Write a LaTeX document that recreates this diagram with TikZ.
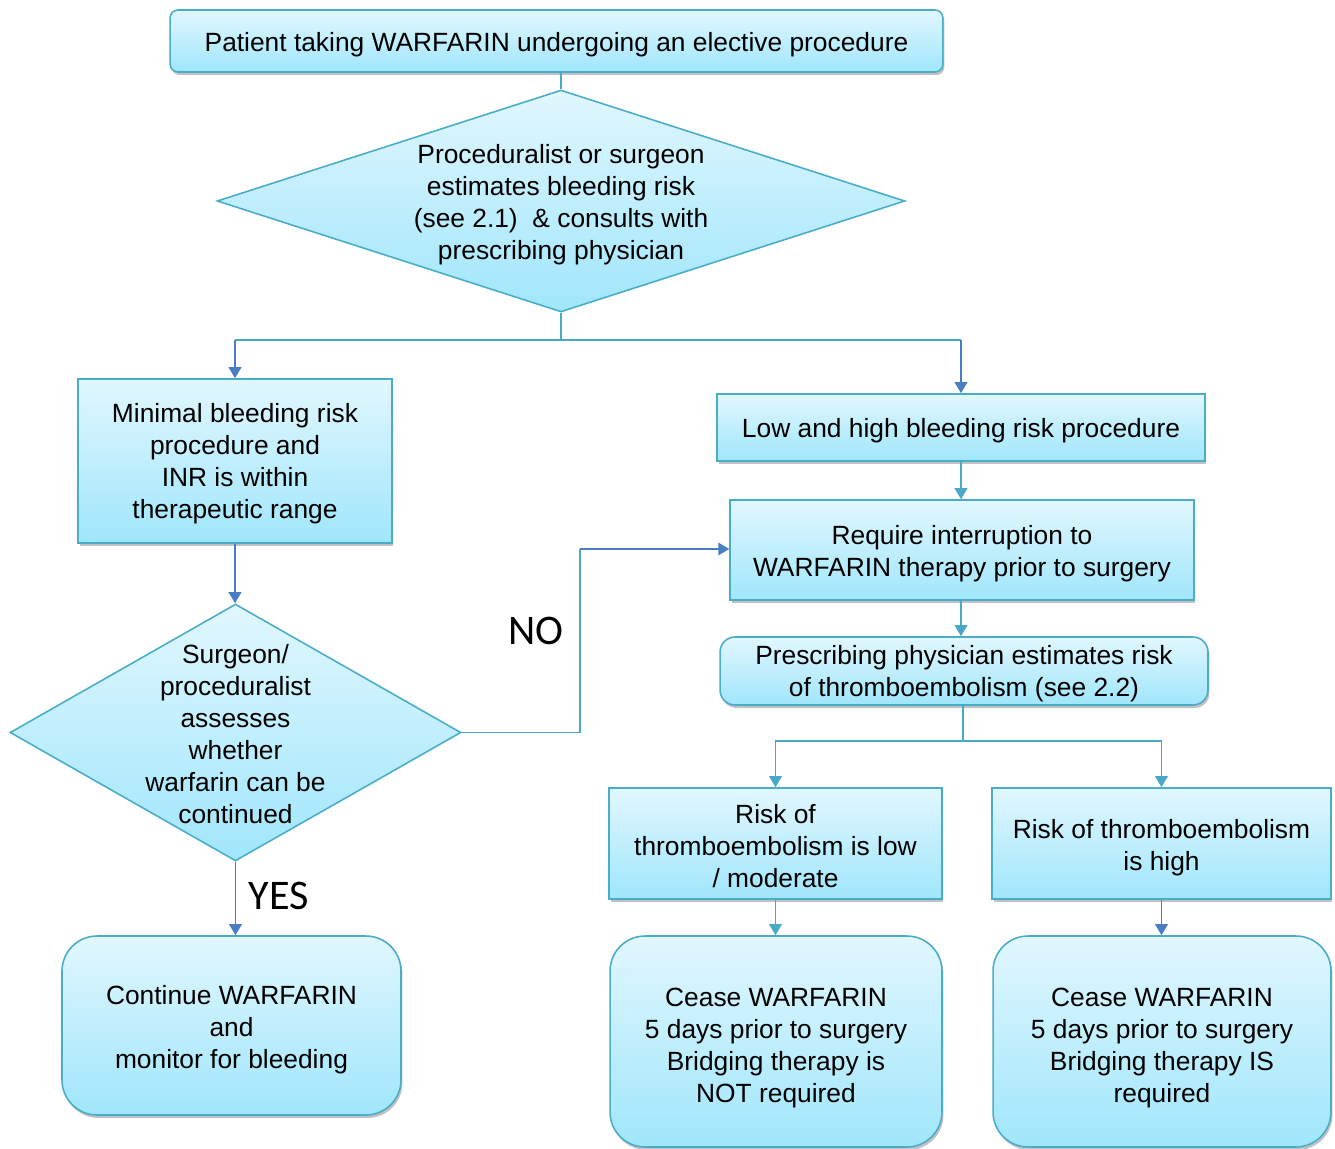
\documentclass[tikz,border=0pt]{standalone}
\usepackage{fontspec}
\setmainfont{Liberation Sans}
\newfontfamily\labelfont{Carlito}
\usetikzlibrary{shapes.geometric,arrows.meta,shadows}
\definecolor{boxtop}{HTML}{E1F7FE}
\definecolor{boxbot}{HTML}{A0E6FB}
\definecolor{boxline}{HTML}{4AADC8}
\definecolor{arrblue}{HTML}{4A7EC2}
\definecolor{arrteal}{HTML}{47A9C7}
\newcommand\tpad[1]{\rule{0pt}{#1}}
\tikzset{
  base/.style={draw=boxline, line width=0.9pt, top color=boxtop, bottom color=boxbot,
    inner sep=0pt, align=center, font=\fontsize{15}{18.2}\selectfont},
  shad/.style={drop shadow={shadow xshift=0.03cm, shadow yshift=-0.06cm, opacity=0.35, fill=black!70}},
  rectbox/.style={base, shad, rectangle},
  roundbox/.style={base, shad, rectangle, rounded corners=#1},
  diabox/.style={base, diamond},
  txt/.style={align=center, inner sep=0pt, font=\fontsize{15}{18.2}\selectfont},
  ynlabel/.style={font=\labelfont\fontsize{24}{28}\selectfont, inner sep=0pt},
  bluearr/.style={draw=arrblue, line width=1.1pt, -{Triangle[width=0.25cm,length=0.22cm]}},
  tealarr/.style={draw=arrteal, line width=1.1pt, -{Triangle[width=0.25cm,length=0.22cm]}},
  tealline/.style={draw=arrteal, line width=1.1pt},
  blueline/.style={draw=arrblue, line width=1.1pt},
}
\begin{document}
\begin{tikzpicture}[x=0.02cm, y=-0.02cm]
\useasboundingbox (0,0) rectangle (1335,1149);

% top box
\node[roundbox=0.16cm, minimum width=15.46cm, minimum height=1.24cm] (top) at (556.5,41)
  {\tpad{14.5pt}Patient taking WARFARIN undergoing an elective procedure};

% first diamond
\node[diabox, minimum width=13.76cm, minimum height=4.44cm] (d1) at (561,201) {};
\node[txt] (d1t) at (561,205) {Proceduralist or surgeon\\estimates bleeding risk\\(see 2.1)\ \ \& consults with\\prescribing physician};

% left branch
\node[rectbox, minimum width=6.28cm, minimum height=3.28cm] (lb) at (235,461)
  {\tpad{14.4pt}Minimal bleeding risk\\procedure and\\INR is within\\therapeutic range};
\node[diabox, minimum width=9.02cm, minimum height=5.14cm] (d2) at (235.5,732.5) {};
\node[txt] (d2t) at (235.5,734) {Surgeon/\\proceduralist\\assesses\\whether\\warfarin can be\\continued};
\node[roundbox=0.7cm, minimum width=6.78cm, minimum height=3.58cm] (cont) at (231.5,1025.5)
  {\tpad{15.6pt}Continue WARFARIN\\and\\monitor for bleeding};

% right branch
\node[rectbox, minimum width=9.76cm, minimum height=1.34cm] (rb1) at (961,427.5)
  {\tpad{15pt}Low and high bleeding risk procedure};
\node[rectbox, minimum width=9.28cm, minimum height=2.0cm] (rb2) at (962,550)
  {\tpad{15.6pt}Require interruption to\\WARFARIN therapy prior to surgery};
\node[roundbox=0.3cm, minimum width=9.76cm, minimum height=1.36cm] (rb3) at (964,671)
  {\tpad{14.4pt}Prescribing physician estimates risk\\of thromboembolism (see 2.2)};
\node[rectbox, minimum width=6.66cm, minimum height=2.22cm] (low) at (775.5,843.5)
  {\tpad{13.3pt}Risk of\\thromboembolism is low\\/ moderate};
\node[rectbox, minimum width=6.78cm, minimum height=2.22cm] (high) at (1161.5,843.5)
  {\tpad{15.6pt}Risk of thromboembolism\\is high};
\node[roundbox=0.7cm, minimum width=6.64cm, minimum height=4.22cm] (cease1) at (776,1041.5)
  {\tpad{17.8pt}Cease WARFARIN\\5 days prior to surgery\\Bridging therapy is\\NOT required};
\node[roundbox=0.7cm, minimum width=6.76cm, minimum height=4.22cm] (cease2) at (1162,1041.5)
  {\tpad{17.8pt}Cease WARFARIN\\5 days prior to surgery\\Bridging therapy IS\\required};

% connectors
\draw[tealline] (top.south -| d1.north) -- (d1.north);
\coordinate (s1) at (561,340);
\draw[tealline] (d1.south) -- (s1);
\draw[tealline] (s1) -- (lb.north |- s1);
\draw[tealline] (s1) -- (rb1.north |- s1);
\draw[bluearr] (lb.north |- s1) -- (lb.north);
\draw[bluearr] (rb1.north |- s1) -- (rb1.north);
\draw[tealarr] (rb1.south) -- (rb1.south |- rb2.north);
\draw[tealarr] (rb1.south |- rb2.south) -- (rb1.south |- rb3.north);

\coordinate (s2) at (963,741);
\draw[tealline] (rb3.south -| s2) -- (s2);
\draw[tealarr] (s2) -| (low.north);
\draw[tealarr] (s2) -| (high.north);
\draw[tealarr] (low.south) -- (cease1.north -| low.south);
\draw[bluearr] (high.south) -- (cease2.north -| high.south);

\draw[bluearr] (lb.south) -- (lb.south |- d2.north);
\draw[bluearr] (d2.south) -- (d2.south |- cont.north);

\coordinate (n1) at (580,732.5);
\coordinate (n2) at (580,549);
\draw[tealline] (d2.east) -- (n1) -- (n2);
\draw[bluearr] (n2) -- (rb2.west |- n2);

\node[ynlabel] (no) at (536,631) {NO};
\node[ynlabel] (yes) at (279,896) {YES};
\end{tikzpicture}
\end{document}
